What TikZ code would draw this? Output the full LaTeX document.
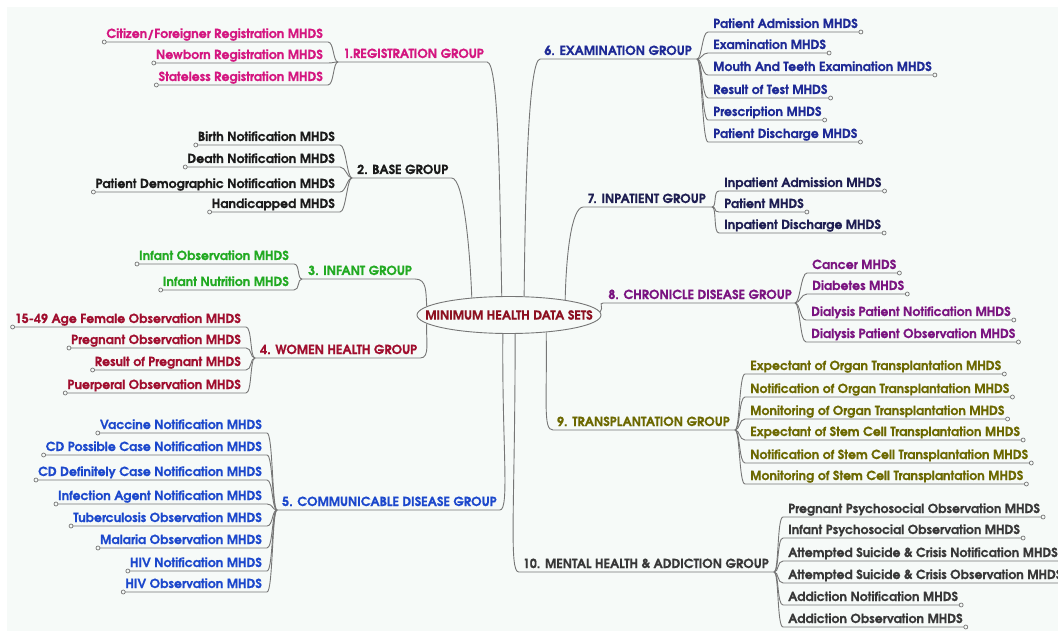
\documentclass[tikz,border=0pt]{standalone}
\usepackage{fontspec}
\setmainfont{TeX Gyre Adventor}[BoldFeatures={FakeBold=0.6}]
\usetikzlibrary{shapes.geometric}
\definecolor{bgc}{RGB}{246,250,248}
\definecolor{linec}{RGB}{118,118,118}
\definecolor{c1}{RGB}{212,22,128}
\definecolor{c2}{RGB}{26,26,26}
\definecolor{c3}{RGB}{34,170,34}
\definecolor{c4}{RGB}{160,14,46}
\definecolor{c5}{RGB}{28,72,204}
\definecolor{c6}{RGB}{30,42,150}
\definecolor{c7}{RGB}{30,30,82}
\definecolor{c8}{RGB}{122,20,128}
\definecolor{c9}{RGB}{108,104,0}
\definecolor{c10}{RGB}{56,56,56}
\definecolor{cc}{RGB}{140,16,32}
\tikzset{
  txt/.style={font=\bfseries\fontsize{12.5}{14}\selectfont, inner sep=0pt},
  conn/.style={draw=linec, line width=0.9pt},
  knob/.style={draw=linec, fill=bgc, line width=0.7pt},
}
% left leaf: name, junction, right x, underline y, text
\newcommand\LeafL[5]{%
  \node[txt, anchor=base east] (#1) at (#3,#4-4) {#5};
  \coordinate (#1o) at ([xshift=-2pt,yshift=-4pt]#1.base west);
  \coordinate (#1i) at ([xshift=5pt,yshift=-4pt]#1.base east);
  \draw[conn] (#1o) -- (#1i) .. controls +(6,0) and +(-5,0) .. (#2);
  \draw[knob] (#1o) circle (2pt);
}
% right leaf: name, junction, left x, underline y, text
\newcommand\LeafR[5]{%
  \node[txt, anchor=base west] (#1) at (#3,#4-4) {#5};
  \coordinate (#1i) at ([xshift=-5pt,yshift=-4pt]#1.base west);
  \coordinate (#1o) at ([xshift=3pt,yshift=-4pt]#1.base east);
  \draw[conn] (#2) .. controls +(5,0) and +(-6,0) .. (#1i) -- (#1o);
  \draw[knob] (#1o) circle (2pt);
}
\begin{document}
\begin{tikzpicture}[x=1pt,y=-1pt]
\useasboundingbox (0,0) rectangle (1058,631);
\fill[white] (0,0) rectangle (1058,631);
\fill[bgc] (7,7) rectangle (1058,631);

% centre
\node[draw=linec, line width=0.9pt, fill=bgc, ellipse, minimum width=184pt, minimum height=37pt, inner sep=0pt] (c) at (509,315) {};
\node[txt, text=cc] (ct) at (c) {MINIMUM HEALTH DATA SETS};

% ---------- group 1
\begin{scope}[every node/.append style={text=c1}]
\coordinate (j1) at (338,62);
\node[txt, anchor=base west] (g1) at (343,58) {1.REGISTRATION GROUP};
\coordinate (e1) at ([xshift=3pt,yshift=-4pt]g1.base east);
\draw[conn] (j1) -- (e1) .. controls +(12,0) and +(-2,-100) .. (c.111);
\LeafL{l11}{j1}{323}{42}{Citizen/Foreigner Registration MHDS}
\LeafL{l12}{j1}{323}{63}{Newborn Registration MHDS}
\LeafL{l13}{j1}{323}{85}{Stateless Registration MHDS}
\end{scope}

% ---------- group 2
\begin{scope}[every node/.append style={text=c2}]
\coordinate (j2) at (352,178);
\node[txt, anchor=base west] (g2) at (357,174) {2. BASE GROUP};
\coordinate (e2) at ([xshift=3pt,yshift=-4pt]g2.base east);
\draw[conn] (j2) -- (e2) .. controls +(12,0) and +(-2,-50) .. (c.155);
\LeafL{l21}{j2}{335}{145}{Birth Notification MHDS}
\LeafL{l22}{j2}{335}{167}{Death Notification MHDS}
\LeafL{l23}{j2}{335}{192}{Patient Demographic Notification MHDS}
\LeafL{l24}{j2}{335}{212}{Handicapped MHDS}
\end{scope}

% ---------- group 3
\begin{scope}[every node/.append style={text=c3}]
\coordinate (j3) at (302,279);
\node[txt, anchor=base west] (g3) at (308,275) {3. INFANT GROUP};
\coordinate (e3) at ([xshift=3pt,yshift=-4pt]g3.base east);
\draw[conn] (j3) -- (e3) .. controls +(12,0) and +(-1,-14) .. (c.174);
\LeafL{l31}{j3}{289}{264}{Infant Observation MHDS}
\LeafL{l32}{j3}{289}{290}{Infant Nutrition MHDS}
\end{scope}

% ---------- group 4
\begin{scope}[every node/.append style={text=c4}]
\coordinate (j4) at (255,358);
\node[txt, anchor=base west] (g4) at (260,354) {4. WOMEN HEALTH GROUP};
\coordinate (e4) at ([xshift=3pt,yshift=-4pt]g4.base east);
\draw[conn] (j4) -- (e4) .. controls +(10,0) and +(-1,16) .. (c.186);
\LeafL{l41}{j4}{241}{327}{15-49 Age Female Observation MHDS}
\LeafL{l42}{j4}{241}{348}{Pregnant Observation MHDS}
\LeafL{l43}{j4}{241}{370}{Result of Pregnant MHDS}
\LeafL{l44}{j4}{241}{393}{Puerperal Observation MHDS}
\end{scope}

% ---------- group 5
\begin{scope}[every node/.append style={text=c5}]
\coordinate (j5) at (277,510);
\node[txt, anchor=base west] (g5) at (282,506) {5. COMMUNICABLE DISEASE GROUP};
\coordinate (e5) at ([xshift=3pt,yshift=-4pt]g5.base east);
\draw[conn] (j5) -- (e5) .. controls +(10,0) and +(-1,110) .. (c.252);
\LeafL{l51}{j5}{262}{433}{Vaccine Notification MHDS}
\LeafL{l52}{j5}{262}{455}{CD Possible Case Notification MHDS}
\LeafL{l53}{j5}{262}{480}{CD Definitely Case Notification MHDS}
\LeafL{l54}{j5}{262}{504}{Infection Agent Notification MHDS}
\LeafL{l55}{j5}{262}{526}{Tuberculosis Observation MHDS}
\LeafL{l56}{j5}{262}{548}{Malaria Observation MHDS}
\LeafL{l57}{j5}{262}{571}{HIV Notification MHDS}
\LeafL{l58}{j5}{262}{592}{HIV Observation MHDS}
\end{scope}

% ---------- group 6
\begin{scope}[every node/.append style={text=c6}]
\coordinate (j6) at (697,59);
\node[txt, anchor=base east] (g6) at (692,55) {6. EXAMINATION GROUP};
\coordinate (s6) at ([xshift=-4pt,yshift=-4pt]g6.base west);
\draw[conn] (c.51) .. controls +(1,-100) and +(-12,0) .. (s6) -- (j6);
\LeafR{r61}{j6}{713}{32}{Patient Admission MHDS}
\LeafR{r62}{j6}{713}{53}{Examination MHDS}
\LeafR{r63}{j6}{713}{75}{Mouth And Teeth Examination MHDS}
\LeafR{r64}{j6}{713}{98}{Result of Test MHDS}
\LeafR{r65}{j6}{713}{120}{Prescription MHDS}
\LeafR{r66}{j6}{713}{142}{Patient Discharge MHDS}
\end{scope}

% ---------- group 7
\begin{scope}[every node/.append style={text=c7}]
\coordinate (j7) at (712,207);
\node[txt, anchor=base east] (g7) at (706,203) {7. INPATIENT GROUP};
\coordinate (s7) at ([xshift=-4pt,yshift=-4pt]g7.base west);
\draw[conn] (c.15) .. controls +(1,-45) and +(-12,0) .. (s7) -- (j7);
\LeafR{r71}{j7}{724}{191}{Inpatient Admission MHDS}
\LeafR{r72}{j7}{724}{212}{Patient MHDS}
\LeafR{r73}{j7}{724}{233}{Inpatient Discharge MHDS}
\end{scope}

% ---------- group 8
\begin{scope}[every node/.append style={text=c8}]
\coordinate (j8) at (795,303);
\node[txt, anchor=base east] (g8) at (792,299) {8. CHRONICLE DISEASE GROUP};
\coordinate (s8) at ([xshift=-5pt,yshift=-4pt]g8.base west);
\draw[conn] (c.2) .. controls +(4,-4) and +(-5,0) .. (s8) -- (j8);
\LeafR{r81}{j8}{812}{273}{Cancer MHDS}
\LeafR{r82}{j8}{812}{294}{Diabetes MHDS}
\LeafR{r83}{j8}{811}{320}{Dialysis Patient Notification MHDS}
\LeafR{r84}{j8}{811}{342}{Dialysis Patient Observation MHDS}
\end{scope}

% ---------- group 9
\begin{scope}[every node/.append style={text=c9}]
\coordinate (j9) at (735,430);
\node[txt, anchor=base east] (g9) at (730,426) {9. TRANSPLANTATION GROUP};
\coordinate (s9) at ([xshift=-4pt,yshift=-4pt]g9.base west);
\draw[conn] (c.335) .. controls +(1,70) and +(-10,0) .. (s9) -- (j9);
\LeafR{r91}{j9}{750}{374}{Expectant of Organ Transplantation MHDS}
\LeafR{r92}{j9}{750}{397}{Notification of Organ Transplantation MHDS}
\LeafR{r93}{j9}{750}{419}{Monitoring of Organ Transplantation MHDS}
\LeafR{r94}{j9}{750}{440}{Expectant of Stem Cell Transplantation MHDS}
\LeafR{r95}{j9}{750}{463}{Notification of Stem Cell Transplantation MHDS}
\LeafR{r96}{j9}{750}{484}{Monitoring of Stem Cell Transplantation MHDS}
\end{scope}

% ---------- group 10
\begin{scope}[every node/.append style={text=c10}]
\coordinate (j10) at (774,572);
\node[txt, anchor=base east] (g10) at (769,568) {10. MENTAL HEALTH \& ADDICTION GROUP};
\coordinate (s10) at ([xshift=-4pt,yshift=-4pt]g10.base west);
\draw[conn] (c.288) .. controls +(0,170) and +(-10,0) .. (s10) -- (j10);
\LeafR{r101}{j10}{788}{517}{Pregnant Psychosocial Observation MHDS}
\LeafR{r102}{j10}{788}{538}{Infant Psychosocial Observation MHDS}
\LeafR{r103}{j10}{788}{561}{Attempted Suicide \& Crisis Notification MHDS}
\LeafR{r104}{j10}{788}{583}{Attempted Suicide \& Crisis Observation MHDS}
\LeafR{r105}{j10}{788}{605}{Addiction Notification MHDS}
\LeafR{r106}{j10}{788}{627}{Addiction Observation MHDS}
\end{scope}
\end{tikzpicture}
\end{document}
